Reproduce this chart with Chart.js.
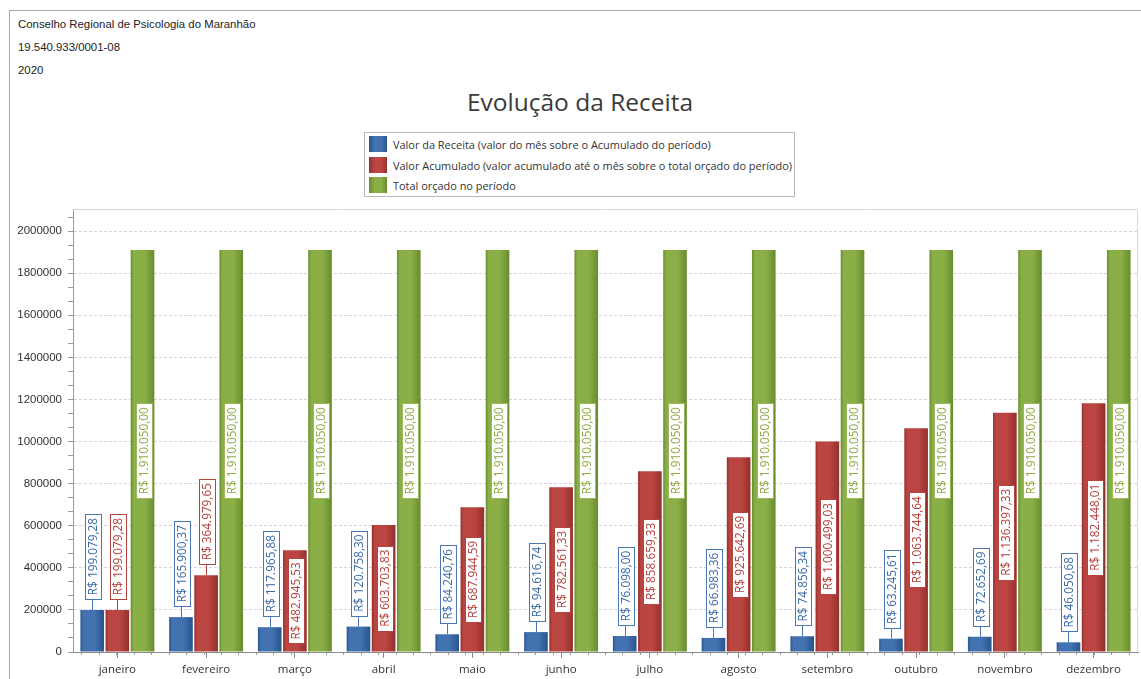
<!DOCTYPE html>
<html lang="pt-BR">
<head>
<meta charset="utf-8">
<title>Evolução da Receita</title>
<script src="https://cdn.jsdelivr.net/npm/chart.js@4.4.1/dist/chart.umd.min.js"></script>
<style>
  html, body { margin:0; padding:0; background:#fff; }
  #wrap { position:relative; width:1141px; height:679px; overflow:hidden; font-family:"Liberation Sans", Arial, sans-serif; }
  #frame { position:absolute; left:9px; top:10px; width:1200px; height:700px; border-left:1px solid #a8a8a8; border-top:1px solid #a8a8a8; }
  .hdr { position:absolute; left:18px; font-size:11.4px; color:#222; white-space:nowrap; }
  #title { position:absolute; left:330px; width:500px; top:85px; text-align:center; font-family:"Open Sans", sans-serif; font-size:24.5px; color:#3a3a3a; }
  #legend { position:absolute; left:364px; top:132px; width:429px; height:63px; border:1px solid #b8b8b8; font-family:"Open Sans", sans-serif; font-size:10.95px; color:#333; }
  .li { position:absolute; left:4px; height:17px; line-height:17px; white-space:nowrap; }
  .sw { display:inline-block; width:18px; height:16px; vertical-align:top; margin-right:6px; }
  canvas { position:absolute; left:0; top:0; }
</style>
</head>
<body>
<div id="wrap">
  <div id="frame"></div>
  <div class="hdr" style="top:18px">Conselho Regional de Psicologia do Maranhão</div>
  <div class="hdr" style="top:41px">19.540.933/0001-08</div>
  <div class="hdr" style="top:64px">2020</div>
  <div id="title">Evolução da Receita</div>
  <div id="legend"></div>
  <canvas id="c" width="1141" height="679"></canvas>
</div>
<script>
// ---- data ----
const months = ['janeiro','fevereiro','março','abril','maio','junho','julho','agosto','setembro','outubro','novembro','dezembro'];
const receitaMes = [199079.28, 165900.37, 117965.88, 120758.30, 84240.76, 94616.74, 76098.00, 66983.36, 74856.34, 63245.61, 72652.69, 46050.68];
const receitaAcumulada = [199079.28, 364979.65, 482945.53, 603703.83, 687944.59, 782561.33, 858659.33, 925642.69, 1000499.03, 1063744.64, 1136397.33, 1182448.01];
const totalOrcado = [1910050, 1910050, 1910050, 1910050, 1910050, 1910050, 1910050, 1910050, 1910050, 1910050, 1910050, 1910050];
const seriesNames = [
  'Valor da Receita (valor do mês sobre o Acumulado do período)',
  'Valor Acumulado (valor acumulado até o mês sobre o total orçado do período)',
  'Total orçado no período'
];
const yTickStep = 200000;
const yMax = 2105000;

// ---- styles ----
const palette = [
  { edge:'#2a558c', mid:'#4272b0', text:'#3a6aa8', box:'#4a78b4', mode:'above' },
  { edge:'#93302d', mid:'#bb4541', text:'#b3403c', box:'#b5433f', mode:'auto' },
  { edge:'#688c2e', mid:'#89af46', text:'#8fa945', box:'#9cb85a', mode:'inside' }
];

function brl(v) {
  const parts = v.toFixed(2).split('.');
  return 'R$ ' + parts[0].replace(/\B(?=(\d{3})+(?!\d))/g, '.') + ',' + parts[1];
}

function barFill(di) {
  return function(c) {
    const el = c.element;
    const p = palette[di];
    if (!el || !el.width || !isFinite(el.x)) return p.mid;
    const g = c.chart.ctx.createLinearGradient(el.x - el.width / 2, 0, el.x + el.width / 2, 0);
    g.addColorStop(0, p.edge);
    g.addColorStop(0.12, p.mid);
    g.addColorStop(0.6, p.mid);
    g.addColorStop(1, p.edge);
    return g;
  };
}

const LABEL_FONT = '11.8px "Open Sans", sans-serif';

const valueBoxes = {
  id: 'valueBoxes',
  afterDatasetsDraw(chart) {
    const ctx = chart.ctx;
    chart.data.datasets.forEach((ds, di) => {
      const meta = chart.getDatasetMeta(di);
      const p = palette[di];
      meta.data.forEach((bar, i) => {
        const text = brl(ds.data[i]);
        ctx.save();
        ctx.font = LABEL_FONT;
        const tw = ctx.measureText(text).width;
        const boxLen = Math.round(tw + 8);
        const boxW = 16;
        const barH = bar.base - bar.y;
        let cy, above = false;
        if (p.mode === 'inside' || (p.mode === 'auto' && barH > boxLen + 8)) {
          cy = (bar.y + bar.base) / 2;
        } else {
          above = true;
          cy = bar.y - 11 - boxLen / 2;
        }
        const cx = Math.round(bar.x) + 0.5;
        if (above) {
          ctx.strokeStyle = p.box;
          ctx.lineWidth = 1;
          ctx.beginPath();
          ctx.moveTo(cx, bar.y);
          ctx.lineTo(cx, bar.y - 11);
          ctx.stroke();
        }
        const x0 = Math.round(cx - boxW / 2) + 0.5;
        const y0 = Math.round(cy - boxLen / 2) + 0.5;
        ctx.fillStyle = '#ffffff';
        ctx.fillRect(x0, y0, boxW, boxLen);
        ctx.strokeStyle = p.box;
        ctx.strokeRect(x0, y0, boxW, boxLen);
        ctx.translate(cx, cy);
        ctx.rotate(-Math.PI / 2);
        ctx.fillStyle = p.text;
        ctx.textAlign = 'center';
        ctx.textBaseline = 'middle';
        ctx.fillText(text, 0, 1);
        ctx.restore();
      });
    });
  }
};

const plotBorder = {
  id: 'plotBorder',
  beforeDatasetsDraw(chart) {
    const a = chart.chartArea, ctx = chart.ctx;
    ctx.save();
    ctx.strokeStyle = '#d6dad6';
    ctx.lineWidth = 1;
    ctx.beginPath();
    ctx.moveTo(a.left, a.top + 0.5);
    ctx.lineTo(a.right - 0.5, a.top + 0.5);
    ctx.lineTo(a.right - 0.5, a.bottom);
    ctx.stroke();
    ctx.restore();
  }
};

const datasets = [receitaMes, receitaAcumulada, totalOrcado].map((arr, di) => ({
  label: seriesNames[di],
  data: arr,
  xAxisID: 'x',
  yAxisID: 'y',
  backgroundColor: barFill(di),
  borderWidth: 0,
  categoryPercentage: 0.85,
  barPercentage: 0.94
}));

const chart = new Chart(document.getElementById('c'), {
  type: 'bar',
  data: { labels: months, datasets },
  options: {
    responsive: false,
    animation: false,
    events: [],
    layout: { padding: { top: 209, right: 3, left: 0, bottom: 0 } },
    plugins: { legend: { display: false }, tooltip: { enabled: false }, title: { display: false } },
    scales: {
      x: {
        type: 'category', position: 'bottom',
        offset: true,
        afterFit(s) { s.height = 27; },
        grid: { offset: false, drawOnChartArea: false, tickLength: 6, tickColor: '#8a8a8a' },
        border: { display: true, color: '#8a8a8a', width: 1 },
        ticks: { color: '#333', font: { family: '"Open Sans", sans-serif', size: 11.5 }, padding: 5, maxRotation: 0, autoSkip: false }
      },
      xm: {
        type: 'linear', position: 'bottom', weight: -1,
        min: -0.5, max: 11.5,
        afterBuildTicks(s) {
          const t = [];
          for (let k = -2; k <= 57; k++) t.push({ value: k * 0.2 });
          s.ticks = t.filter(o => o.value > -0.5 && o.value < 11.5);
        },
        afterFit(s) { s.height = 0; },
        ticks: { display: false },
        grid: { drawOnChartArea: false, drawTicks: true, tickLength: 3, tickColor: '#9a9a9a' },
        border: { display: false }
      },
      y: {
        min: 0, max: yMax,
        afterBuildTicks(s) {
          const t = [];
          for (let k = 0; k * yTickStep / 3 <= yMax; k++) t.push({ value: Math.round(k * yTickStep / 3) });
          s.ticks = t;
        },
        afterFit(s) { s.width = 73; },
        grid: {
          color: c => (c.tick && c.tick.value % yTickStep === 0 && c.tick.value !== 0) ? '#d9d2de' : 'rgba(0,0,0,0)',
          tickColor: '#9a9a9a', tickLength: 5
        },
        border: { display: true, color: '#9a9a9a', dash: [3, 2] },
        ticks: {
          color: '#333', font: { family: '"Liberation Sans", Arial, sans-serif', size: 11.5 }, padding: 6,
          autoSkip: false,
          callback: v => (v % yTickStep === 0 ? String(v) : '')
        }
      }
    }
  },
  plugins: [plotBorder, valueBoxes]
});
chart.update('none');

// HTML legend built from the chart's datasets
const lg = document.getElementById('legend');
chart.data.datasets.forEach((ds, i) => {
  const d = document.createElement('div');
  d.className = 'li';
  d.style.top = (3 + i * 20.5) + 'px';
  const sw = document.createElement('span');
  sw.className = 'sw';
  sw.style.background = 'linear-gradient(90deg,' + palette[i].edge + ',' + palette[i].mid + ' 30%,' + palette[i].mid + ' 70%,' + palette[i].edge + ')';
  d.appendChild(sw);
  d.appendChild(document.createTextNode(ds.label));
  lg.appendChild(d);
});
</script>
</body>
</html>
